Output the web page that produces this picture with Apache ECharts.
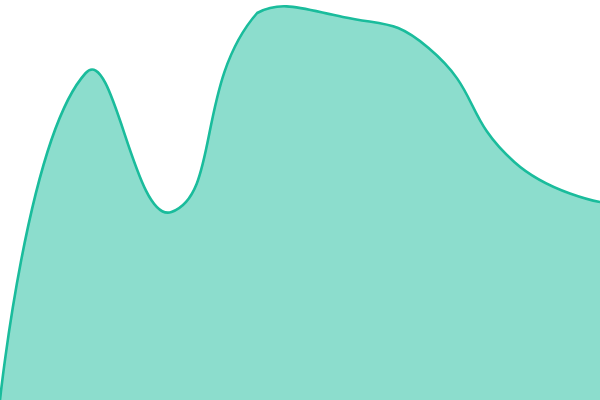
<!DOCTYPE html>
<html><head><meta charset="utf-8">
<script src="https://cdn.jsdelivr.net/npm/echarts@6/dist/echarts.min.js"></script>
<style>html,body{margin:0;padding:0;background:#fff}#c{width:600px;height:400px}</style>
</head><body><div id="c"></div>
<script>
var categories = ['1', '2', '3', '4', '5', '6', '7', '8'];
var values = [0, 327, 188, 387, 383, 352, 238, 198];
var SMOOTH = 0.5;

// Bezier control points (length-weighted tangents, clamped to the plot rectangle)
function smoothControlPoints(pts, smooth, rmin, rmax) {
  var min = [rmin[0], rmin[1]], max = [rmax[0], rmax[1]];
  pts.forEach(function (p) {
    min[0] = Math.min(min[0], p[0]); min[1] = Math.min(min[1], p[1]);
    max[0] = Math.max(max[0], p[0]); max[1] = Math.max(max[1], p[1]);
  });
  function clamp(c) {
    return [Math.min(Math.max(c[0], min[0]), max[0]), Math.min(Math.max(c[1], min[1]), max[1])];
  }
  var cps = [];
  for (var i = 0; i < pts.length; i++) {
    var p = pts[i];
    if (i === 0 || i === pts.length - 1) { cps.push([p[0], p[1]]); continue; }
    var prev = pts[i - 1], next = pts[i + 1];
    var vx = (next[0] - prev[0]) * smooth, vy = (next[1] - prev[1]) * smooth;
    var d0 = Math.hypot(p[0] - prev[0], p[1] - prev[1]);
    var d1 = Math.hypot(p[0] - next[0], p[1] - next[1]);
    var s = d0 + d1;
    if (s) { d0 /= s; d1 /= s; }
    cps.push(clamp([p[0] - vx * d0, p[1] - vy * d0]));
    cps.push(clamp([p[0] + vx * d1, p[1] + vy * d1]));
  }
  return cps;
}

function renderItem(params, api) {
  if (params.dataIndex !== 0) return null;
  var cs = params.coordSys;
  var pts = values.map(function (v, i) { return api.coord([i, v]); });
  var cps = smoothControlPoints(pts, SMOOTH, [cs.x, cs.y], [cs.x + cs.width, cs.y + cs.height]);
  var d = 'M' + pts[0][0] + ' ' + pts[0][1];
  for (var i = 0; i < pts.length - 1; i++) {
    var c1 = cps[i * 2], c2 = cps[i * 2 + 1], p = pts[i + 1];
    d += ' C' + c1[0] + ' ' + c1[1] + ' ' + c2[0] + ' ' + c2[1] + ' ' + p[0] + ' ' + p[1];
  }
  var base0 = api.coord([0, 0]), base1 = api.coord([values.length - 1, 0]);
  var area = d + ' L' + base1[0] + ' ' + base1[1] + ' L' + base0[0] + ' ' + base0[1] + ' Z';
  return {
    type: 'group',
    children: [
      {type: 'path', shape: {pathData: area}, style: {fill: 'rgba(26,188,156,0.5)', stroke: null}},
      {type: 'path', shape: {pathData: d}, style: {fill: null, stroke: '#1abc9c', lineWidth: 2.6}}
    ]
  };
}

var chart = echarts.init(document.getElementById('c'));
chart.setOption({
  animation: false,
  grid: {left: 0, right: 0, top: 0, bottom: 0},
  xAxis: {type: 'category', data: categories, boundaryGap: false, show: false},
  yAxis: {type: 'value', min: 0, max: 400, show: false},
  series: [{
    type: 'custom',
    renderItem: renderItem,
    data: values.map(function (v, i) { return [i, v]; }),
    clip: true
  }]
});
</script></body></html>
